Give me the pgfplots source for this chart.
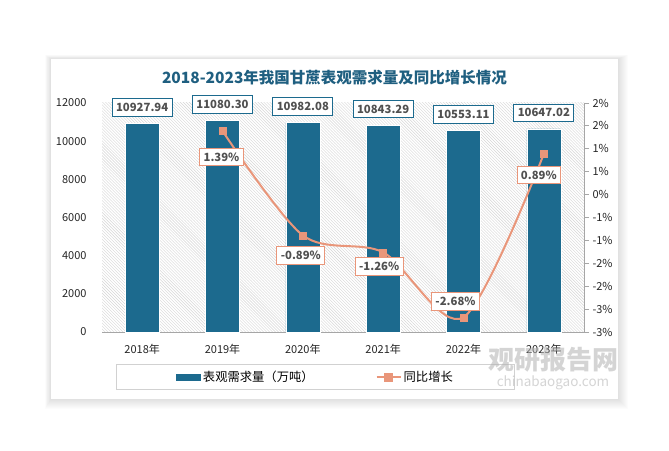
\documentclass[border=0pt]{standalone}
\usepackage{fontspec}
\setmainfont{Noto Sans CJK SC}
\usepackage{pgfplots}
\usepackage{pgfplotstable}
\pgfplotsset{compat=1.18}
\usetikzlibrary{patterns}

\definecolor{barblue}{HTML}{1C6A8E}
\definecolor{salmon}{HTML}{E9967A}
\definecolor{titleblue}{HTML}{1F5F80}
\definecolor{labgray}{HTML}{505050}
\definecolor{axgray}{HTML}{A6A6A6}

\pgfplotstableread{
x y
0 10927.94
1 11080.30
2 10982.08
3 10843.29
4 10553.11
5 10647.02
}\demand

\pgfplotstableread{
x y dx dy
1 1.39 -1 -26
2 -0.89 -2 -20
3 -1.26 -4 -14
4 -2.68 -8 16
5 0.89 -5 -21
}\growth

\begin{document}
\begin{tikzpicture}
\path[use as bounding box] (0bp,0bp) rectangle (669bp,451bp);
% card and its soft shadow
\foreach \d in {1,...,10}
  \fill[black, opacity=0.012] (51bp-0.6bp*\d,52bp-1bp*\d) rectangle (618bp+1bp*\d,392bp+0.4bp*\d);
\fill[white] (51bp,52bp) rectangle (618bp,392bp);

\node[font=\bfseries\fontsize{15.5bp}{18bp}\selectfont, text=titleblue] at (334.5bp,373bp)
  {2018-2023年我国甘蔗表观需求量及同比增长情况};

\begin{axis}[
  at={(102bp,119bp)}, anchor=south west,
  scale only axis, width=482bp, height=229bp,
  xmin=-0.5, xmax=5.5, ymin=0, ymax=12000,
  clip=false,
  axis background/.style={pattern=north west lines, pattern color=black!16},
  axis x line*=bottom, axis y line*=left,
  x axis line style={draw=axgray, line width=0.8bp},
  y axis line style={draw=none},
  xtick=data,
  xticklabels={2018年,2019年,2020年,2021年,2022年,2023年},
  ytick={0,2000,...,12000},
  scaled y ticks=false,
  major tick length=0pt,
  tick style={draw=none},
  ticklabel style={font=\fontsize{11bp}{13bp}\selectfont, text=black!85},
  xticklabel style={yshift=-9bp},
  yticklabel style={xshift=-12bp},
  /pgf/number format/assume math mode=true,
  yticklabel={\pgfmathprintnumber[fixed,1000 sep={}]{\tick}},
]
\addplot[ybar, bar width=34bp, fill=barblue, draw=white, line width=0.4bp,
  nodes near coords={\pgfmathprintnumber[fixed,fixed zerofill,precision=2,1000 sep={},assume math mode=true]{\pgfplotspointmeta}},
  every node near coord/.append style={anchor=center, yshift=16bp,
    draw=barblue, line width=0.9bp, fill=white, text=labgray,
    font=\bfseries\fontsize{11.3bp}{13bp}\selectfont, inner xsep=4bp, inner ysep=4.5bp}
] table[x=x,y=y] {\demand};
\end{axis}

\begin{axis}[
  at={(102bp,119bp)}, anchor=south west,
  scale only axis, width=482bp, height=229bp,
  xmin=-0.5, xmax=5.5, ymin=-3, ymax=2,
  clip=false,
  axis x line=none, axis y line*=right,
  y axis line style={draw=axgray, line width=0.8bp},
  ytick={-3,-2.5,...,2},
  yticklabels={-3\%,-3\%,-2\%,-2\%,-1\%,-1\%,0\%,1\%,1\%,2\%,2\%},
  tick align=outside, major tick length=5bp,
  ytick style={draw=axgray, line width=0.8bp},
  ticklabel style={font=\fontsize{11bp}{13bp}\selectfont, text=black!85},
  legend columns=2,
  legend style={at={(0.443,-0.197)}, anchor=center, draw=black!18, line width=0.8bp,
    font=\fontsize{12.3bp}{14bp}\selectfont, inner xsep=60bp, inner ysep=4.5bp,
    /tikz/every even column/.append style={column sep=60bp}},
]
\addlegendimage{legend image code/.code={\fill[barblue] (0bp,-3bp) rectangle (24bp,3bp);}}
\addlegendentry{表观需求量（万吨）}
\addplot[salmon, line width=2bp, smooth, mark=square*, mark size=3.5bp,
  mark options={fill=salmon, draw=salmon, line width=0.5bp},
  visualization depends on={\thisrow{dx} \as \dx},
  visualization depends on={\thisrow{dy} \as \dy},
  point meta=explicit,
  nodes near coords={\pgfmathprintnumber[fixed,fixed zerofill,precision=2,assume math mode=true]{\pgfplotspointmeta}\%},
  every node near coord/.append style={anchor=center, xshift=\dx bp, yshift=\dy bp,
    draw=salmon, line width=0.9bp, fill=white, text=labgray,
    font=\bfseries\fontsize{11.3bp}{13bp}\selectfont, inner xsep=4bp, inner ysep=4.5bp},
  legend image code/.code={\draw[salmon, line width=2bp] (0bp,0bp) -- (24bp,0bp);
    \fill[salmon] (8.5bp,-3.5bp) rectangle (15.5bp,3.5bp);}
] table[x=x,y=y,meta=y] {\growth};
\addlegendentry{同比增长}
\end{axis}

% watermark
\node[font=\bfseries\fontsize{26bp}{28bp}\selectfont, text=black!30, opacity=0.55] at (553bp,91bp) {观研报告网};
\node[font=\fontsize{13.5bp}{15bp}\selectfont, text=black!30, opacity=0.55] at (553bp,68bp) {chinabaogao.com};
\end{tikzpicture}
\end{document}
